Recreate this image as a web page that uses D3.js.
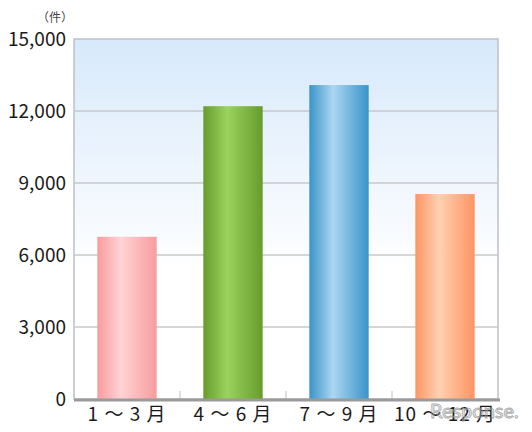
<!DOCTYPE html>
<html>
<head>
<meta charset="utf-8">
<script src="https://cdn.jsdelivr.net/npm/d3@7"></script>
<style>
  body { margin: 0; background: #fff; }
  text { font-family: "Noto Sans CJK JP", "Noto Sans", sans-serif; }
</style>
</head>
<body>
<div id="chart"></div>
<script>
const width = 532;
const height = 432;

const categories = ["1 ～ 3 月", "4 ～ 6 月", "7 ～ 9 月", "10 ～ 12 月"];
const values = [6760, 12200, 13080, 8540];
const tickValues = [0, 3000, 6000, 9000, 12000, 15000];
// [edge, highlight] per bar
const barColors = [
    ["#f79c9e", "#ffd3d4"],
    ["#679c2c", "#9ad35d"],
    ["#3994c9", "#abd6f1"],
    ["#fd9563", "#ffd0b2"]
];

const margin = { top: 39, right: 34, bottom: 33, left: 74 };

const svg = d3.select("#chart")
    .append("svg")
    .attr("width", width)
    .attr("height", height);

const defs = svg.append("defs");

const bg = defs.append("linearGradient")
    .attr("id", "bg")
    .attr("x1", 0).attr("y1", 0).attr("x2", 0).attr("y2", 1);
bg.append("stop").attr("offset", "0%").attr("stop-color", "#d7e9fb");
bg.append("stop").attr("offset", "65%").attr("stop-color", "#ffffff");

barColors.forEach((c, i) => {
    const g = defs.append("linearGradient")
        .attr("id", "bar" + i)
        .attr("x1", 0).attr("y1", 0).attr("x2", 1).attr("y2", 0);
    g.append("stop").attr("offset", "0%").attr("stop-color", c[0]);
    g.append("stop").attr("offset", "40%").attr("stop-color", c[1]);
    g.append("stop").attr("offset", "100%").attr("stop-color", c[0]);
});

const x = d3.scaleBand()
    .domain(categories)
    .range([margin.left, width - margin.right])
    .paddingInner(0.44)
    .paddingOuter(0.22);

const y = d3.scaleLinear()
    .domain([0, 15000])
    .range([height - margin.bottom, margin.top]);

// plot background
svg.append("rect")
    .attr("x", margin.left)
    .attr("y", y(15000))
    .attr("width", width - margin.right - margin.left)
    .attr("height", y(0) - y(15000))
    .attr("fill", "url(#bg)")
    .attr("stroke", "#bcc1c6")
    .attr("stroke-width", 1.5);

// gridlines
svg.append("g")
    .selectAll("line")
    .data(tickValues.filter(d => d > 0 && d < 15000))
    .join("line")
    .attr("x1", margin.left)
    .attr("x2", width - margin.right)
    .attr("y1", d => y(d))
    .attr("y2", d => y(d))
    .attr("stroke", "#c8c8c8")
    .attr("stroke-width", 1.5);

// small category separators at the base
const step = x.step();
svg.append("g")
    .selectAll("line")
    .data(categories.slice(1))
    .join("line")
    .attr("x1", d => x(d) - (step - x.bandwidth()) / 2)
    .attr("x2", d => x(d) - (step - x.bandwidth()) / 2)
    .attr("y1", y(0))
    .attr("y2", y(0) - 8)
    .attr("stroke", "#c0c0c0")
    .attr("stroke-width", 1);

// bars
svg.append("g")
    .selectAll("rect")
    .data(values)
    .join("rect")
    .attr("x", (d, i) => x(categories[i]))
    .attr("y", d => y(d))
    .attr("width", x.bandwidth())
    .attr("height", d => y(0) - y(d))
    .attr("fill", (d, i) => "url(#bar" + i + ")");

// base line
svg.append("line")
    .attr("x1", margin.left)
    .attr("x2", width - margin.right + 2)
    .attr("y1", y(0) + 1)
    .attr("y2", y(0) + 1)
    .attr("stroke", "#9a9a9a")
    .attr("stroke-width", 3);

// y axis labels
const yAxis = d3.axisLeft(y)
    .tickValues(tickValues)
    .tickSize(0)
    .tickPadding(8)
    .tickFormat(d3.format(","));

svg.append("g")
    .attr("transform", `translate(${margin.left},0)`)
    .call(yAxis)
    .call(g => g.select(".domain").remove())
    .call(g => g.selectAll("text")
        .attr("fill", "#1a1a1a")
        .style("font-size", "19px"));

// x axis labels
const xAxis = d3.axisBottom(x).tickSize(0).tickPadding(9);
svg.append("g")
    .attr("transform", `translate(0,${y(0)})`)
    .call(xAxis)
    .call(g => g.select(".domain").remove())
    .call(g => g.selectAll("text")
        .attr("fill", "#1a1a1a")
        .style("font-size", "19px")
        .style("letter-spacing", "1px"));

// unit label
svg.append("text")
    .attr("x", 55)
    .attr("y", 22)
    .attr("text-anchor", "middle")
    .attr("fill", "#444")
    .style("font-size", "12px")
    .text("（件）");

// watermark
svg.append("text")
    .attr("x", 430)
    .attr("y", 418)
    .attr("fill", "none")
    .attr("stroke", "#9a9a9a")
    .attr("stroke-width", 1)
    .attr("opacity", 0.8)
    .style("font-size", "20px")
    .style("font-family", "Lato, sans-serif")
    .text("Response.");
</script>
</body>
</html>
